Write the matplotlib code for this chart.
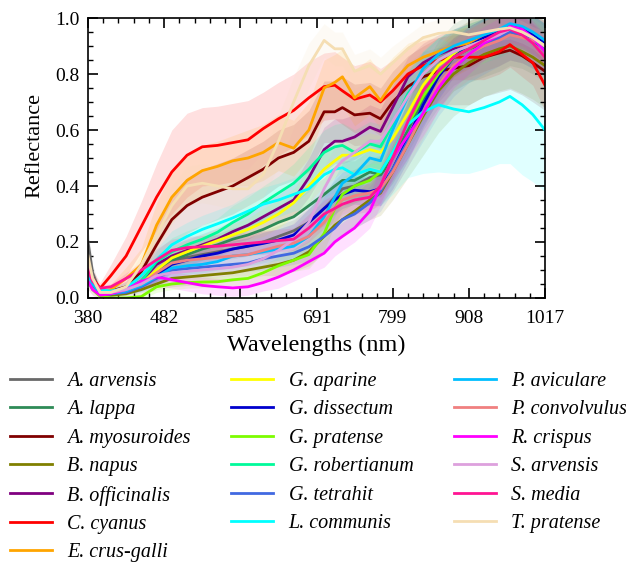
import matplotlib
matplotlib.use('Agg')
import matplotlib.pyplot as plt
from matplotlib.ticker import MultipleLocator
import numpy as np

plt.rcParams['font.family'] = ['Liberation Serif', 'DejaVu Serif']

# band index positions of the sampled points (x axis is band index, labelled in nm)
band_idx = [0, 3, 8, 15, 25, 35, 45, 55, 65, 75, 85, 95, 105, 115, 125, 135, 145, 155, 162,
            167, 175, 185, 192, 200, 210, 220, 230, 240, 250, 260, 270, 277, 285, 292, 300]
tick_positions = [0, 50, 100, 150, 200, 250, 300]
tick_labels = ['380', '482', '585', '691', '799', '908', '1017']

species = ['A. arvensis', 'A. lappa', 'A. myosuroides', 'B. napus', 'B. officinalis',
           'C. cyanus', 'E. crus-galli', 'G. aparine', 'G. dissectum', 'G. pratense',
           'G. robertianum', 'G. tetrahit', 'L. communis', 'P. aviculare', 'P. convolvulus',
           'R. crispus', 'S. arvensis', 'S. media', 'T. pratense']
colors = ['dimgray', 'seagreen', 'maroon', 'olive', 'purple', 'red', 'orange', 'yellow',
          'mediumblue', 'lawngreen', 'mediumspringgreen', 'royalblue', 'cyan', 'deepskyblue',
          'lightcoral', 'magenta', 'plum', 'deeppink', 'wheat']

mean_arvensis = [0.20, 0.09, 0.02, 0.02, 0.03, 0.05, 0.09, 0.13, 0.145, 0.155, 0.165, 0.175, 0.185, 0.20, 0.22, 0.24, 0.27, 0.32, 0.36, 0.39, 0.40, 0.43, 0.44, 0.50, 0.61, 0.72, 0.80, 0.86, 0.89, 0.91, 0.93, 0.95, 0.94, 0.92, 0.89]
mean_lappa = [0.10, 0.06, 0.02, 0.02, 0.03, 0.05, 0.09, 0.135, 0.155, 0.175, 0.19, 0.21, 0.225, 0.245, 0.27, 0.29, 0.33, 0.37, 0.40, 0.42, 0.42, 0.45, 0.44, 0.50, 0.60, 0.71, 0.80, 0.86, 0.89, 0.91, 0.93, 0.95, 0.94, 0.92, 0.89]
mean_myosuroides = [0.12, 0.06, 0.02, 0.025, 0.04, 0.094, 0.19, 0.28, 0.33, 0.36, 0.38, 0.40, 0.43, 0.46, 0.50, 0.52, 0.56, 0.665, 0.665, 0.68, 0.654, 0.66, 0.64, 0.70, 0.755, 0.79, 0.81, 0.82, 0.83, 0.86, 0.875, 0.885, 0.865, 0.84, 0.81]
mean_napus = [0.08, 0.05, 0.015, 0.01, 0.015, 0.03, 0.05, 0.07, 0.075, 0.08, 0.085, 0.09, 0.10, 0.11, 0.12, 0.135, 0.165, 0.22, 0.26, 0.28, 0.31, 0.35, 0.375, 0.45, 0.55, 0.65, 0.74, 0.80, 0.84, 0.87, 0.89, 0.90, 0.88, 0.86, 0.83]
mean_officinalis = [0.10, 0.06, 0.02, 0.02, 0.03, 0.06, 0.12, 0.15, 0.17, 0.19, 0.21, 0.237, 0.26, 0.29, 0.32, 0.35, 0.43, 0.53, 0.56, 0.56, 0.575, 0.61, 0.595, 0.68, 0.79, 0.84, 0.87, 0.89, 0.91, 0.93, 0.95, 0.97, 0.96, 0.94, 0.92]
mean_cyanus = [0.10, 0.07, 0.035, 0.08, 0.15, 0.255, 0.36, 0.45, 0.51, 0.54, 0.545, 0.555, 0.565, 0.605, 0.64, 0.67, 0.715, 0.755, 0.76, 0.74, 0.71, 0.725, 0.70, 0.74, 0.80, 0.83, 0.85, 0.86, 0.86, 0.86, 0.88, 0.905, 0.87, 0.84, 0.76]
mean_crusgalli = [0.12, 0.06, 0.02, 0.03, 0.07, 0.118, 0.26, 0.36, 0.42, 0.455, 0.47, 0.49, 0.50, 0.52, 0.555, 0.535, 0.60, 0.75, 0.77, 0.79, 0.715, 0.755, 0.705, 0.77, 0.83, 0.86, 0.88, 0.90, 0.91, 0.93, 0.95, 0.97, 0.95, 0.93, 0.90]
mean_aparine = [0.10, 0.06, 0.02, 0.02, 0.03, 0.05, 0.10, 0.143, 0.165, 0.185, 0.205, 0.225, 0.245, 0.27, 0.30, 0.34, 0.40, 0.46, 0.49, 0.51, 0.51, 0.53, 0.52, 0.57, 0.66, 0.76, 0.83, 0.87, 0.90, 0.92, 0.95, 0.97, 0.96, 0.94, 0.91]
mean_dissectum = [0.09, 0.05, 0.015, 0.015, 0.025, 0.045, 0.08, 0.12, 0.135, 0.15, 0.16, 0.175, 0.185, 0.195, 0.207, 0.225, 0.27, 0.32, 0.35, 0.37, 0.385, 0.38, 0.39, 0.46, 0.57, 0.69, 0.79, 0.86, 0.90, 0.93, 0.95, 0.97, 0.96, 0.94, 0.91]
mean_pratense = [0.06, 0.03, 0.005, 0.0, 0.0, 0.005, 0.04, 0.05, 0.055, 0.057, 0.058, 0.065, 0.07, 0.09, 0.115, 0.135, 0.155, 0.23, 0.32, 0.37, 0.40, 0.42, 0.45, 0.52, 0.62, 0.72, 0.80, 0.86, 0.89, 0.92, 0.94, 0.96, 0.95, 0.93, 0.90]
mean_robertianum = [0.10, 0.06, 0.02, 0.02, 0.035, 0.06, 0.13, 0.165, 0.19, 0.21, 0.235, 0.27, 0.30, 0.34, 0.375, 0.41, 0.46, 0.52, 0.54, 0.545, 0.52, 0.55, 0.54, 0.62, 0.73, 0.80, 0.85, 0.88, 0.90, 0.92, 0.94, 0.96, 0.95, 0.93, 0.90]
mean_tetrahit = [0.08, 0.05, 0.015, 0.015, 0.02, 0.04, 0.07, 0.10, 0.105, 0.11, 0.115, 0.12, 0.125, 0.14, 0.15, 0.16, 0.183, 0.22, 0.25, 0.28, 0.30, 0.34, 0.38, 0.46, 0.56, 0.66, 0.75, 0.82, 0.87, 0.90, 0.93, 0.95, 0.94, 0.92, 0.89]
mean_communis = [0.08, 0.05, 0.03, 0.025, 0.035, 0.08, 0.136, 0.19, 0.22, 0.245, 0.265, 0.286, 0.31, 0.335, 0.35, 0.37, 0.39, 0.44, 0.46, 0.465, 0.44, 0.46, 0.45, 0.52, 0.62, 0.665, 0.69, 0.675, 0.665, 0.68, 0.70, 0.72, 0.69, 0.655, 0.60]
mean_aviculare = [0.09, 0.05, 0.015, 0.015, 0.025, 0.045, 0.075, 0.107, 0.115, 0.12, 0.13, 0.15, 0.155, 0.165, 0.175, 0.185, 0.22, 0.29, 0.36, 0.41, 0.44, 0.50, 0.49, 0.60, 0.72, 0.82, 0.87, 0.90, 0.92, 0.94, 0.96, 0.98, 0.97, 0.95, 0.92]
mean_convolvulus = [0.12, 0.07, 0.02, 0.02, 0.03, 0.05, 0.09, 0.125, 0.135, 0.14, 0.145, 0.15, 0.155, 0.17, 0.185, 0.196, 0.22, 0.27, 0.32, 0.35, 0.365, 0.375, 0.39, 0.45, 0.55, 0.66, 0.76, 0.83, 0.87, 0.90, 0.92, 0.94, 0.93, 0.92, 0.90]
mean_crispus = [0.06, 0.03, 0.01, 0.015, 0.03, 0.06, 0.075, 0.065, 0.055, 0.045, 0.04, 0.036, 0.04, 0.055, 0.075, 0.10, 0.13, 0.16, 0.20, 0.22, 0.25, 0.31, 0.40, 0.50, 0.58, 0.66, 0.75, 0.82, 0.87, 0.91, 0.94, 0.97, 0.96, 0.93, 0.88]
mean_sarvensis = [0.12, 0.07, 0.02, 0.02, 0.03, 0.05, 0.08, 0.09, 0.095, 0.10, 0.105, 0.11, 0.12, 0.14, 0.17, 0.21, 0.27, 0.39, 0.46, 0.49, 0.52, 0.56, 0.56, 0.63, 0.72, 0.80, 0.85, 0.88, 0.90, 0.92, 0.94, 0.96, 0.95, 0.93, 0.90]
mean_media = [0.10, 0.06, 0.035, 0.04, 0.07, 0.10, 0.136, 0.17, 0.18, 0.183, 0.185, 0.19, 0.195, 0.20, 0.205, 0.21, 0.25, 0.30, 0.32, 0.335, 0.35, 0.36, 0.40, 0.50, 0.63, 0.74, 0.81, 0.86, 0.89, 0.92, 0.95, 0.96, 0.94, 0.91, 0.86]
mean_tpratense = [0.15, 0.07, 0.02, 0.02, 0.04, 0.118, 0.225, 0.33, 0.40, 0.41, 0.40, 0.39, 0.39, 0.44, 0.56, 0.70, 0.83, 0.92, 0.89, 0.89, 0.81, 0.83, 0.80, 0.84, 0.89, 0.93, 0.945, 0.95, 0.94, 0.95, 0.96, 0.965, 0.95, 0.93, 0.90]

std_arvensis = [0.05, 0.03, 0.01, 0.01, 0.01, 0.02, 0.03, 0.03, 0.03, 0.03, 0.03, 0.035, 0.035, 0.04, 0.04, 0.04, 0.05, 0.06, 0.06, 0.06, 0.06, 0.07, 0.07, 0.08, 0.09, 0.10, 0.10, 0.10, 0.10, 0.10, 0.10, 0.10, 0.10, 0.10, 0.10]
std_lappa = [0.04, 0.03, 0.01, 0.01, 0.01, 0.02, 0.03, 0.04, 0.04, 0.04, 0.04, 0.04, 0.04, 0.05, 0.05, 0.05, 0.06, 0.06, 0.07, 0.07, 0.07, 0.08, 0.08, 0.09, 0.10, 0.11, 0.12, 0.12, 0.12, 0.12, 0.12, 0.12, 0.12, 0.12, 0.12]
std_myosuroides = [0.05, 0.03, 0.01, 0.01, 0.02, 0.04, 0.07, 0.09, 0.10, 0.10, 0.10, 0.10, 0.10, 0.10, 0.10, 0.10, 0.11, 0.11, 0.11, 0.11, 0.11, 0.11, 0.11, 0.11, 0.11, 0.11, 0.12, 0.13, 0.14, 0.14, 0.14, 0.14, 0.14, 0.14, 0.14]
std_napus = [0.03, 0.02, 0.01, 0.01, 0.01, 0.02, 0.02, 0.03, 0.03, 0.03, 0.03, 0.03, 0.03, 0.03, 0.04, 0.04, 0.05, 0.06, 0.06, 0.06, 0.06, 0.07, 0.08, 0.10, 0.12, 0.14, 0.15, 0.15, 0.15, 0.15, 0.15, 0.15, 0.15, 0.15, 0.15]
std_officinalis = [0.04, 0.02, 0.01, 0.01, 0.01, 0.02, 0.03, 0.04, 0.04, 0.04, 0.04, 0.04, 0.05, 0.05, 0.05, 0.06, 0.07, 0.08, 0.08, 0.08, 0.08, 0.08, 0.08, 0.08, 0.07, 0.07, 0.07, 0.07, 0.07, 0.07, 0.07, 0.07, 0.07, 0.07, 0.07]
std_cyanus = [0.05, 0.03, 0.02, 0.04, 0.07, 0.09, 0.12, 0.15, 0.15, 0.14, 0.14, 0.14, 0.14, 0.13, 0.13, 0.13, 0.13, 0.12, 0.12, 0.12, 0.12, 0.12, 0.12, 0.11, 0.10, 0.09, 0.08, 0.08, 0.08, 0.08, 0.08, 0.08, 0.08, 0.08, 0.09]
std_crusgalli = [0.05, 0.03, 0.01, 0.02, 0.04, 0.06, 0.08, 0.09, 0.09, 0.09, 0.09, 0.09, 0.10, 0.10, 0.10, 0.10, 0.10, 0.10, 0.10, 0.10, 0.10, 0.10, 0.10, 0.09, 0.08, 0.07, 0.06, 0.06, 0.06, 0.06, 0.06, 0.06, 0.06, 0.06, 0.06]
std_aparine = [0.04, 0.02, 0.01, 0.01, 0.01, 0.02, 0.03, 0.04, 0.04, 0.04, 0.04, 0.04, 0.04, 0.05, 0.05, 0.05, 0.06, 0.06, 0.06, 0.06, 0.06, 0.06, 0.06, 0.07, 0.08, 0.08, 0.08, 0.08, 0.08, 0.08, 0.08, 0.08, 0.08, 0.08, 0.08]
std_dissectum = [0.03, 0.02, 0.01, 0.01, 0.01, 0.02, 0.03, 0.03, 0.03, 0.03, 0.03, 0.03, 0.03, 0.04, 0.04, 0.04, 0.05, 0.05, 0.05, 0.05, 0.05, 0.05, 0.06, 0.07, 0.08, 0.08, 0.08, 0.07, 0.07, 0.07, 0.07, 0.07, 0.07, 0.07, 0.07]
std_pratense = [0.03, 0.02, 0.01, 0.01, 0.01, 0.01, 0.02, 0.02, 0.02, 0.02, 0.02, 0.02, 0.03, 0.03, 0.03, 0.04, 0.05, 0.06, 0.06, 0.06, 0.06, 0.06, 0.06, 0.07, 0.08, 0.08, 0.08, 0.07, 0.07, 0.07, 0.07, 0.07, 0.07, 0.07, 0.07]
std_robertianum = [0.04, 0.02, 0.01, 0.01, 0.01, 0.02, 0.04, 0.05, 0.05, 0.05, 0.05, 0.06, 0.06, 0.06, 0.06, 0.07, 0.08, 0.08, 0.08, 0.08, 0.08, 0.08, 0.08, 0.08, 0.08, 0.08, 0.08, 0.08, 0.08, 0.08, 0.08, 0.08, 0.08, 0.08, 0.08]
std_tetrahit = [0.03, 0.02, 0.01, 0.01, 0.01, 0.02, 0.03, 0.03, 0.03, 0.03, 0.03, 0.03, 0.03, 0.04, 0.04, 0.04, 0.05, 0.05, 0.05, 0.05, 0.05, 0.06, 0.07, 0.08, 0.09, 0.10, 0.10, 0.10, 0.10, 0.10, 0.10, 0.10, 0.10, 0.10, 0.10]
std_communis = [0.04, 0.02, 0.01, 0.01, 0.02, 0.03, 0.04, 0.05, 0.05, 0.05, 0.05, 0.05, 0.06, 0.06, 0.06, 0.06, 0.07, 0.08, 0.08, 0.08, 0.09, 0.10, 0.12, 0.15, 0.19, 0.22, 0.24, 0.23, 0.22, 0.22, 0.22, 0.24, 0.25, 0.24, 0.22]
std_aviculare = [0.03, 0.02, 0.01, 0.01, 0.01, 0.02, 0.03, 0.03, 0.03, 0.03, 0.03, 0.04, 0.04, 0.04, 0.04, 0.05, 0.06, 0.07, 0.07, 0.07, 0.07, 0.07, 0.07, 0.07, 0.07, 0.06, 0.06, 0.06, 0.06, 0.06, 0.06, 0.06, 0.06, 0.06, 0.06]
std_convolvulus = [0.04, 0.02, 0.01, 0.01, 0.01, 0.02, 0.03, 0.03, 0.03, 0.03, 0.03, 0.03, 0.03, 0.04, 0.04, 0.04, 0.05, 0.05, 0.05, 0.05, 0.05, 0.06, 0.06, 0.07, 0.08, 0.09, 0.09, 0.09, 0.09, 0.09, 0.09, 0.09, 0.09, 0.09, 0.09]
std_crispus = [0.03, 0.02, 0.01, 0.01, 0.01, 0.02, 0.03, 0.03, 0.03, 0.03, 0.03, 0.03, 0.03, 0.03, 0.04, 0.04, 0.045, 0.05, 0.05, 0.05, 0.05, 0.06, 0.07, 0.08, 0.08, 0.08, 0.08, 0.07, 0.07, 0.06, 0.06, 0.06, 0.06, 0.06, 0.06]
std_sarvensis = [0.05, 0.03, 0.01, 0.01, 0.01, 0.02, 0.03, 0.03, 0.03, 0.03, 0.03, 0.03, 0.04, 0.04, 0.05, 0.06, 0.07, 0.08, 0.08, 0.08, 0.08, 0.08, 0.08, 0.08, 0.08, 0.07, 0.07, 0.07, 0.07, 0.07, 0.07, 0.07, 0.07, 0.07, 0.07]
std_media = [0.04, 0.02, 0.01, 0.01, 0.02, 0.03, 0.04, 0.04, 0.04, 0.04, 0.04, 0.04, 0.04, 0.04, 0.04, 0.04, 0.05, 0.05, 0.05, 0.05, 0.05, 0.05, 0.06, 0.07, 0.08, 0.08, 0.08, 0.07, 0.07, 0.07, 0.07, 0.07, 0.07, 0.07, 0.07]
std_tpratense = [0.05, 0.03, 0.01, 0.01, 0.02, 0.04, 0.06, 0.07, 0.07, 0.07, 0.07, 0.07, 0.07, 0.08, 0.09, 0.09, 0.08, 0.06, 0.06, 0.06, 0.06, 0.06, 0.06, 0.06, 0.05, 0.05, 0.05, 0.05, 0.05, 0.05, 0.04, 0.04, 0.04, 0.04, 0.05]

means = [mean_arvensis, mean_lappa, mean_myosuroides, mean_napus, mean_officinalis, mean_cyanus,
         mean_crusgalli, mean_aparine, mean_dissectum, mean_pratense, mean_robertianum,
         mean_tetrahit, mean_communis, mean_aviculare, mean_convolvulus, mean_crispus,
         mean_sarvensis, mean_media, mean_tpratense]
stds = [std_arvensis, std_lappa, std_myosuroides, std_napus, std_officinalis, std_cyanus,
        std_crusgalli, std_aparine, std_dissectum, std_pratense, std_robertianum,
        std_tetrahit, std_communis, std_aviculare, std_convolvulus, std_crispus,
        std_sarvensis, std_media, std_tpratense]

fig = plt.figure(figsize=(6.26, 5.63), dpi=100)
ax = fig.add_axes([0.1406, 0.4707, 0.7300, 0.4973])

x = np.array(band_idx)
for m, s, c in zip(means, stds, colors):
    m = np.array(m); s = np.array(s)
    ax.fill_between(x, m - s, m + s, color=c, alpha=0.12, linewidth=0)
handles = []
for m, c, name in zip(means, colors, species):
    h, = ax.plot(x, m, color=c, lw=2, label=name)
    handles.append(h)

ax.set_xlim(0, 300)
ax.set_ylim(0, 1.0)
ax.set_xticks(tick_positions)
ax.set_xticklabels(tick_labels)
ax.set_yticks([0, 0.2, 0.4, 0.6, 0.8, 1.0])
ax.xaxis.set_minor_locator(MultipleLocator(10))
ax.yaxis.set_minor_locator(MultipleLocator(0.05))
ax.tick_params(which='both', direction='in', top=True, right=True, labelsize=14)
ax.tick_params(which='major', length=7, width=1.2)
ax.tick_params(which='minor', length=3.5, width=1)
ax.tick_params(axis='x', which='major', pad=8.5)
ax.tick_params(axis='y', which='major', pad=6)
for sp in ax.spines.values():
    sp.set_linewidth(1.2)
ax.set_xlabel('Wavelengths (nm)', fontsize=17.5, labelpad=6)
ax.set_ylabel('Reflectance', fontsize=16)
ax.yaxis.set_label_coords(-0.095, 0.545)

fig.legend(handles, species, loc='upper left', bbox_to_anchor=(0.003, 0.354), ncol=3,
           frameon=False, prop={'style': 'italic', 'size': 14.5}, handlelength=2.1,
           handletextpad=0.75, labelspacing=0.465, columnspacing=2.0, borderaxespad=0)

fig.savefig('out.png', dpi=100)
